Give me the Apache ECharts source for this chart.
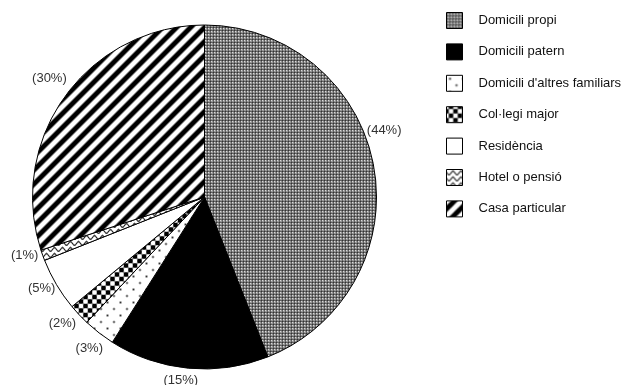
<!DOCTYPE html>
<html>
<head>
<meta charset="utf-8">
<script src="https://cdn.jsdelivr.net/npm/echarts@6/dist/echarts.min.js"></script>
<style>
  html, body { margin: 0; padding: 0; background: #fff; }
  #chart { width: 629px; height: 385px; }
</style>
</head>
<body>
<div id="chart"></div>
<script>
const categories = ['Domicili propi', 'Domicili patern', "Domicili d'altres familiars", 'Col·legi major', 'Residència', 'Hotel o pensió', 'Casa particular'];
const values = [44, 15, 3, 2, 5, 1, 30];

// pattern tiles drawn pixel by pixel
function tile(w, h, fn) {
    const c = document.createElement('canvas');
    c.width = w; c.height = h;
    const ctx = c.getContext('2d');
    const img = ctx.createImageData(w, h);
    for (let y = 0; y < h; y++) {
        for (let x = 0; x < w; x++) {
            const v = Math.max(0, Math.min(255, Math.round(fn(x, y) * 255)));
            const i = (y * w + x) * 4;
            img.data[i] = img.data[i + 1] = img.data[i + 2] = v;
            img.data[i + 3] = 255;
        }
    }
    ctx.putImageData(img, 0, 0);
    return { image: c, repeat: 'repeat' };
}
const sharp = (t, k) => Math.max(0, Math.min(1, 0.5 + t * k));

const patterns = [
    // fine grey grid
    tile(3, 3, (x, y) => (x === 0 && y === 0) ? 0.2 : (x === 0 || y === 0) ? 0.38 : (x === 1 && y === 1) ? 0.85 : 0.6),
    '#000',
    // sparse dots
    tile(13, 13, (x, y) => {
        const d1 = Math.hypot(x - 3, y - 3), d2 = Math.hypot(x - 9.5, y - 9.5);
        return Math.min(1, Math.min(d1, d2) / 1.7 * 0.75 + 0.2);
    }),
    // checker blobs
    tile(9, 9, (x, y) => sharp(Math.cos(2 * Math.PI * (x + 0.5) / 9) * Math.cos(2 * Math.PI * (y + 0.5) / 9), 1.6)),
    '#fff',
    // waves
    tile(8, 6, (x, y) => {
        const wy = 3 + 1.8 * Math.sin(2 * Math.PI * x / 8);
        const d = Math.abs(y - wy);
        return Math.min(1, 0.15 + d * 0.5);
    }),
    // diagonal stripes
    tile(14, 14, (x, y) => sharp(Math.cos(2 * Math.PI * (x + y) / 14), 1.0))
];

// small nudges so the percent labels sit where the original put them
const labelShift = [[-5, -31], [-6, -4], [0, 3], [-5, -2], [-1, -4], [-3, -5], [-3, -8]];

const seriesData = categories.map((name, i) => ({
    name: name,
    value: values[i],
    itemStyle: { color: patterns[i] }
}));

const chart = echarts.init(document.getElementById('chart'));
chart.setOption({
    animation: false,
    legend: {
        orient: 'vertical',
        left: 441,
        top: 7,
        icon: 'rect',
        itemWidth: 16,
        itemHeight: 16,
        itemGap: 14.4,
        itemStyle: { borderColor: '#000', borderWidth: 1 },
        textStyle: {
            color: '#111',
            fontSize: 13,
            fontFamily: 'Liberation Sans',
            padding: [0, 0, 0, 11]
        },
        data: categories
    },
    series: [{
        type: 'pie',
        center: [204.5, 197],
        radius: 172,
        startAngle: 90,
        clockwise: true,
        avoidLabelOverlap: false,
        itemStyle: { borderColor: '#000', borderWidth: 1 },
        emphasis: { disabled: true },
        label: {
            position: 'outside',
            formatter: '({c}%)',
            color: '#333',
            fontSize: 13,
            fontFamily: 'Liberation Sans',
            distanceToLabelLine: 0
        },
        labelLine: { show: false, length: 16, length2: 0 },
        labelLayout: function (p) {
            const s = labelShift[p.dataIndex];
            return { align: 'center', dx: s[0], dy: s[1] };
        },
        data: seriesData
    }]
});
</script>
</body>
</html>
